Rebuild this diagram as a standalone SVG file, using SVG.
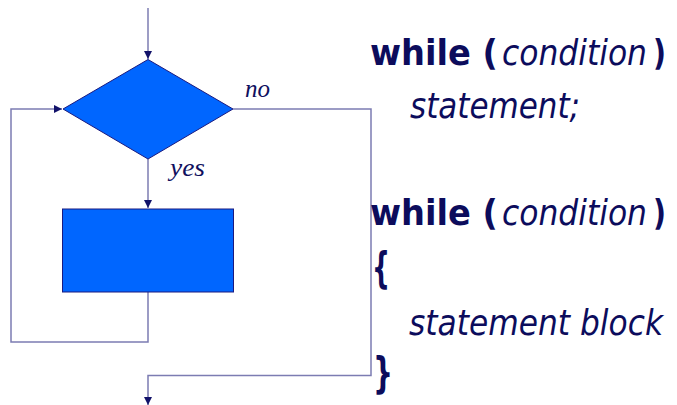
<svg xmlns="http://www.w3.org/2000/svg" width="677" height="405" viewBox="0 0 677 405">
  <style>
    .flow { fill: none; stroke: #7c7cb2; stroke-width: 1.5; }
    .shape { fill: #0066ff; stroke: #1a1a80; stroke-width: 1; }
    .lbl { font-family: "Liberation Serif", serif; font-style: italic; font-size: 25px; fill: #10105e; }
    .code { font-family: "DejaVu Sans", sans-serif; font-size: 35px; fill: #0c0c5c; }
    .kw { font-weight: bold; }
    .it { font-style: italic; }
  </style>
  <defs>
    <marker id="arrow" viewBox="0 0 10 10" refX="10" refY="5" markerWidth="8" markerHeight="8" markerUnits="userSpaceOnUse" orient="auto">
      <path d="M0,0 L10,5 L0,10 Z" fill="#12126a"/>
    </marker>
  </defs>

  <!-- connectors -->
  <g id="connectors">
    <path class="flow" d="M148,8 V59" marker-end="url(#arrow)"/>
    <path class="flow" d="M148,159 V208" marker-end="url(#arrow)"/>
    <path class="flow" d="M148,292 V342 H11 V109 H62" marker-end="url(#arrow)"/>
    <path class="flow" d="M233,109 H371 V375.5 H148 V405" marker-end="url(#arrow)"/>
  </g>

  <!-- decision -->
  <g id="decision">
    <polygon class="shape" points="148,59.5 233,109 148,159 63,109"/>
  </g>

  <!-- loop body -->
  <g id="body">
    <rect class="shape" x="62.5" y="209" width="171" height="83"/>
  </g>

  <!-- branch labels -->
  <g id="labels">
    <text class="lbl" x="245" y="97" textLength="25" lengthAdjust="spacingAndGlyphs">no</text>
    <text class="lbl" x="170" y="176" textLength="35" lengthAdjust="spacingAndGlyphs">yes</text>
  </g>

  <!-- while syntax, single statement -->
  <g id="syntax-single" class="code">
    <text y="65"><tspan class="kw" x="370" textLength="128" lengthAdjust="spacingAndGlyphs">while (</tspan><tspan class="it" x="502" textLength="145" lengthAdjust="spacingAndGlyphs">condition</tspan><tspan class="kw" x="653" textLength="13" lengthAdjust="spacingAndGlyphs">)</tspan></text>
    <text class="it" x="410" y="118" textLength="170" lengthAdjust="spacingAndGlyphs">statement;</text>
  </g>

  <!-- while syntax, statement block -->
  <g id="syntax-block" class="code">
    <text y="225"><tspan class="kw" x="370" textLength="128" lengthAdjust="spacingAndGlyphs">while (</tspan><tspan class="it" x="502" textLength="145" lengthAdjust="spacingAndGlyphs">condition</tspan><tspan class="kw" x="653" textLength="13" lengthAdjust="spacingAndGlyphs">)</tspan></text>
    <text class="kw" x="372" y="283" font-size="42" textLength="18" lengthAdjust="spacingAndGlyphs">{</text>
    <text class="it" x="409" y="335" textLength="254" lengthAdjust="spacingAndGlyphs">statement block</text>
    <text class="kw" x="373" y="388" font-size="42" textLength="20" lengthAdjust="spacingAndGlyphs">}</text>
  </g>
</svg>
